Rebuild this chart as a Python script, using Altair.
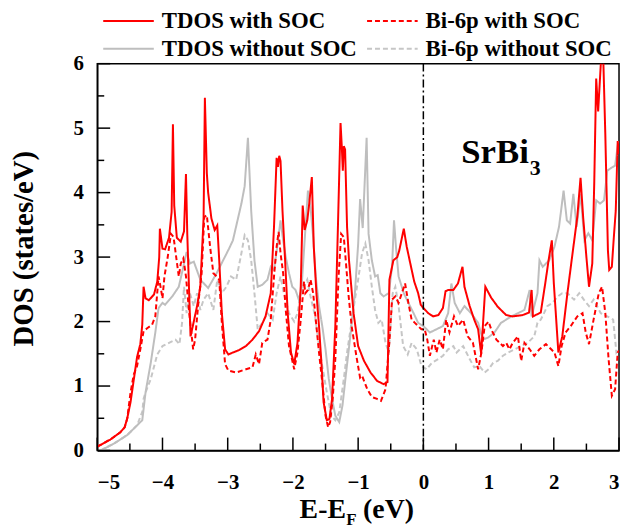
import altair as alt
import pandas as pd

FONT = "Liberation Serif"

series_names = ["TDOS with SOC", "Bi-6p with SOC", "TDOS without SOC", "Bi-6p without SOC"]
series_colors = ["#FF0000", "#FF0000", "#BEBEBE", "#C6C6C6"]
series_dash = [[1, 0], [5, 3], [1, 0], [5, 3]]

tdos_soc_x = [-5.0, -4.8, -4.65, -4.58, -4.54, -4.49, -4.44, -4.39, -4.34, -4.31, -4.29, -4.26, -4.21, -4.13,
              -4.08, -4.05, -4.04, -4.0, -3.96, -3.9, -3.86, -3.84, -3.82, -3.78, -3.72, -3.67, -3.64, -3.62,
              -3.57, -3.52, -3.47, -3.42, -3.37, -3.35, -3.32, -3.30, -3.25, -3.20, -3.16, -3.13, -3.09, -3.04,
              -2.99, -2.92, -2.82, -2.72, -2.62, -2.52, -2.42, -2.34, -2.29, -2.25, -2.23, -2.21, -2.19, -2.16,
              -2.12, -2.08, -2.03, -1.98, -1.93, -1.88, -1.85, -1.82, -1.78, -1.75, -1.71, -1.68, -1.64, -1.60,
              -1.56, -1.53, -1.48, -1.44, -1.40, -1.35, -1.31, -1.27, -1.25, -1.235, -1.22, -1.20, -1.17, -1.14,
              -1.07, -1.0, -0.91, -0.81, -0.71, -0.61, -0.55, -0.52, -0.46, -0.40, -0.37, -0.30, -0.255, -0.20,
              -0.14, -0.08, -0.04, 0.0, 0.075, 0.15, 0.23, 0.30, 0.34, 0.38, 0.46, 0.53, 0.60, 0.63, 0.71, 0.78,
              0.84, 0.886, 0.95, 1.04, 1.14, 1.27, 1.37, 1.52, 1.62, 1.66, 1.68, 1.80, 1.87, 1.92, 1.97, 2.0,
              2.07, 2.13, 2.21, 2.28, 2.36, 2.41, 2.45, 2.50, 2.54, 2.59, 2.62, 2.65, 2.68, 2.72, 2.75, 2.79,
              2.83, 2.85, 2.89, 2.92, 2.95, 2.98, 3.0]
tdos_soc_y = [0.06, 0.17, 0.28, 0.36, 0.5, 0.75, 1.1, 1.45, 1.65, 1.95, 2.54, 2.36, 2.33, 2.42,
              2.62, 3.0, 3.44, 3.13, 3.12, 3.3, 3.7, 5.06, 3.8, 3.3, 3.24, 3.4, 4.29, 3.36,
              1.77, 2.0, 2.24, 2.54, 3.6, 5.47, 4.3, 4.0, 3.6, 3.42, 3.49, 2.95, 2.13, 1.57,
              1.49, 1.52, 1.56, 1.62, 1.72, 1.85, 2.08, 2.44, 3.47, 4.54, 4.4, 4.57, 4.49, 3.72,
              2.95, 2.13, 1.52, 1.34, 1.67, 2.54, 3.8, 3.42, 3.57, 3.83, 4.24, 3.16, 2.44, 1.93,
              1.31, 0.75, 0.47, 0.49, 0.8, 1.93, 3.47, 5.08, 4.7, 4.34, 4.72, 4.67, 3.47, 2.95,
              2.13, 1.62, 1.39, 1.21, 1.08, 1.03, 1.06, 2.65, 2.95, 3.0, 3.1, 3.44, 3.16, 2.9,
              2.62, 2.44, 2.26, 2.21, 2.13, 2.08, 2.1, 2.21, 2.47, 2.49, 2.49, 2.59, 2.85, 2.54, 2.24, 2.03,
              1.88, 1.5, 2.54, 2.37, 2.23, 2.1, 2.08, 2.1, 2.14, 2.49, 2.08, 2.14, 2.6, 2.95, 3.26, 2.6,
              1.52, 1.77, 2.45, 3.0, 3.62, 4.23, 3.62, 3.0, 2.54, 2.9, 4.14, 5.77, 5.26, 5.98, 6.4, 4.9,
              3.1, 2.8, 2.85, 3.3, 3.72, 4.8, 4.6]

bi6p_soc_x = [-5.0, -4.8, -4.65, -4.58, -4.54, -4.49, -4.44, -4.39, -4.34, -4.29, -4.23, -4.16, -4.11, -4.06,
              -4.03, -4.0, -3.97, -3.92, -3.87, -3.83, -3.79, -3.75, -3.72, -3.68, -3.64, -3.59, -3.53, -3.5,
              -3.45, -3.40, -3.36, -3.32, -3.27, -3.22, -3.17, -3.13, -3.09, -3.04, -2.99, -2.87, -2.72, -2.62,
              -2.57, -2.52, -2.47, -2.39, -2.34, -2.29, -2.25, -2.22, -2.19, -2.15, -2.11, -2.06, -1.98, -1.93,
              -1.88, -1.83, -1.81, -1.77, -1.73, -1.69, -1.65, -1.60, -1.55, -1.50, -1.46, -1.43, -1.39, -1.35,
              -1.30, -1.26, -1.22, -1.19, -1.15, -1.10, -1.02, -0.97, -0.94, -0.86, -0.79, -0.71, -0.65, -0.58,
              -0.52, -0.48, -0.43, -0.38, -0.33, -0.28, -0.23, -0.18, -0.13, -0.08, -0.03, 0.02, 0.06, 0.10,
              0.16, 0.20, 0.25, 0.30, 0.35, 0.40, 0.47, 0.53, 0.61, 0.68, 0.76, 0.84, 0.89, 0.94, 1.0, 1.04,
              1.12, 1.22, 1.27, 1.32, 1.37, 1.45, 1.50, 1.55, 1.63, 1.70, 1.78, 1.88, 1.96, 2.01, 2.07, 2.12,
              2.18, 2.26, 2.36, 2.44, 2.49, 2.54, 2.61, 2.69, 2.74, 2.79, 2.84, 2.89, 2.94, 2.98, 3.0]
bi6p_soc_y = [0.06, 0.17, 0.28, 0.36, 0.5, 0.9, 1.18, 1.31, 1.57, 1.85, 1.9, 1.95, 2.08, 2.7,
              2.54, 2.36, 2.7, 3.0, 3.36, 3.31, 3.0, 2.7, 2.9, 2.98, 2.7, 2.13, 1.57, 1.72,
              2.29, 2.75, 3.62, 3.65, 3.16, 2.75, 2.7, 2.65, 1.98, 1.34, 1.24, 1.21, 1.26, 1.29,
              1.49, 1.34, 1.67, 1.72, 2.03, 2.7, 3.16, 3.39, 3.06, 2.75, 2.18, 1.62, 1.26, 1.52,
              2.03, 2.62, 2.44, 2.49, 2.65, 2.44, 2.03, 1.52, 1.06, 0.54, 0.36, 0.44, 0.8, 1.42,
              2.7, 3.36, 3.31, 2.95, 2.44, 1.93, 1.42, 1.13, 1.16, 0.95, 0.83, 0.8, 0.77, 0.95,
              1.7, 2.34, 2.39, 2.29, 2.44, 2.59, 2.29, 2.03, 1.98, 1.93, 1.88, 1.88, 1.72, 1.47,
              1.72, 1.52, 1.72, 1.57, 2.03, 1.83, 2.08, 1.93, 2.03, 1.77, 1.67, 1.26, 1.52, 1.93, 2.0, 1.88,
              1.72, 1.62, 1.67, 1.57, 1.67, 1.77, 1.39, 1.67, 1.57, 1.47, 1.57, 1.65, 1.57, 1.52, 1.31, 1.62,
              1.83, 1.93, 2.08, 2.13, 1.83, 1.65, 2.03, 2.44, 2.54, 2.13, 1.42, 0.85, 0.95, 1.52, 1.55]

tdos_nosoc_x = [-4.95, -4.74, -4.54, -4.39, -4.31, -4.26, -4.18, -4.11, -4.06, -4.0, -3.96, -3.85, -3.75, -3.68,
                -3.63, -3.58, -3.52, -3.42, -3.30, -3.17, -3.07, -2.98, -2.92, -2.79, -2.74, -2.69, -2.64, -2.59,
                -2.54, -2.47, -2.39, -2.34, -2.29, -2.24, -2.19, -2.15, -2.11, -2.06, -2.01, -1.96, -1.91, -1.87,
                -1.82, -1.77, -1.73, -1.69, -1.65, -1.60, -1.55, -1.50, -1.45, -1.40, -1.35, -1.29, -1.24, -1.19,
                -1.12, -1.05, -1.0, -0.97, -0.93, -0.87, -0.84, -0.79, -0.74, -0.70, -0.66, -0.61, -0.53, -0.48,
                -0.45, -0.42, -0.38, -0.30, -0.23, -0.15, -0.08, 0.0, 0.10, 0.20, 0.30, 0.38, 0.43, 0.48, 0.56,
                0.63, 0.73, 0.84, 0.91, 0.99, 1.09, 1.19, 1.27, 1.35, 1.45, 1.55, 1.63, 1.66, 1.75, 1.78, 1.83,
                1.93, 2.01, 2.08, 2.15, 2.20, 2.25, 2.30, 2.35, 2.41, 2.47, 2.53, 2.59, 2.65, 2.71, 2.77, 2.82,
                2.89, 2.94, 2.99, 3.0]
tdos_nosoc_y = [0.0, 0.11, 0.24, 0.39, 0.47, 0.9, 1.36, 1.83, 2.21, 2.29, 2.26, 2.39, 2.54, 2.85,
                3.08, 2.9, 2.93, 2.65, 2.52, 2.75, 2.95, 3.13, 3.26, 3.83, 4.1, 4.85, 3.72, 2.95,
                2.54, 2.57, 2.65, 2.85, 2.8, 3.16, 3.57, 3.26, 3.0, 2.75, 2.54, 2.49, 2.34, 2.49,
                3.26, 4.03, 3.77, 3.31, 2.7, 2.24, 1.93, 1.57, 1.11, 0.8, 0.54, 0.44, 0.7, 1.16,
                1.77, 2.44, 3.2, 3.9, 3.45, 4.85, 3.36, 2.95, 2.7, 2.72, 2.44, 2.39, 2.44, 2.85,
                3.57, 3.16, 2.7, 2.44, 2.29, 2.13, 1.98, 1.93, 1.83, 1.88, 1.93, 2.13, 2.59, 2.29, 2.13,
                2.24, 2.13, 1.98, 1.72, 1.75, 1.83, 1.98, 2.03, 2.08, 2.13, 2.18, 2.49, 2.08, 2.44, 2.95, 2.85,
                2.95, 3.16, 3.47, 4.03, 3.57, 3.52, 3.98, 3.47, 3.98, 3.26, 3.37, 3.26, 3.88, 3.83, 3.88, 4.34,
                4.39, 4.42, 4.8, 4.7]

bi6p_nosoc_x = [-4.95, -4.74, -4.54, -4.39, -4.31, -4.29, -4.26, -4.18, -4.08, -4.0, -3.9, -3.80, -3.74, -3.70,
                -3.67, -3.63, -3.58, -3.52, -3.47, -3.42, -3.37, -3.30, -3.22, -3.16, -3.09, -3.02, -2.95, -2.87,
                -2.79, -2.74, -2.69, -2.64, -2.59, -2.54, -2.47, -2.39, -2.31, -2.25, -2.19, -2.14, -2.06, -1.98,
                -1.93, -1.88, -1.78, -1.73, -1.66, -1.60, -1.55, -1.48, -1.41, -1.35, -1.29, -1.22, -1.17, -1.11,
                -1.05, -1.0, -0.94, -0.89, -0.84, -0.79, -0.74, -0.69, -0.64, -0.58, -0.53, -0.47, -0.43, -0.38,
                -0.31, -0.24, -0.18, -0.10, -0.03, 0.05, 0.13, 0.23, 0.30, 0.38, 0.46, 0.51, 0.61, 0.71, 0.78,
                0.86, 0.94, 1.0, 1.07, 1.14, 1.22, 1.30, 1.40, 1.50, 1.60, 1.70, 1.75, 1.80, 1.85, 1.90, 1.98,
                2.06, 2.13, 2.21, 2.31, 2.39, 2.46, 2.54, 2.61, 2.72, 2.82, 2.91, 2.96, 3.0]
bi6p_nosoc_y = [0.0, 0.11, 0.24, 0.39, 0.6, 0.8, 0.9, 1.11, 1.49, 1.62, 1.67, 1.72, 1.65, 1.98,
                2.54, 2.13, 2.44, 2.24, 2.44, 2.18, 2.34, 2.44, 2.18, 2.65, 2.44, 2.54, 2.7, 2.65,
                3.06, 3.34, 3.26, 2.95, 2.44, 1.88, 1.98, 2.13, 2.03, 2.44, 2.7, 2.44, 2.13, 2.0,
                2.13, 2.44, 2.65, 2.39, 2.08, 1.62, 1.31, 0.9, 0.54, 0.47, 0.59, 1.11, 1.52, 1.93,
                2.34, 2.65, 3.06, 3.21, 2.95, 2.54, 2.18, 1.98, 2.03, 1.67, 1.52, 2.44, 2.54, 2.24,
                1.62, 1.49, 1.67, 1.57, 1.31, 1.26, 1.36, 1.42, 1.47, 1.57, 1.62, 1.52, 1.62, 1.42, 1.29,
                1.31, 1.21, 1.26, 1.36, 1.39, 1.47, 1.52, 1.57, 1.62, 1.67, 1.77, 1.98, 2.03, 2.13, 2.24, 2.29,
                2.39, 2.44, 2.44, 2.34, 2.44, 2.34, 2.24, 2.34, 2.13, 2.08, 2.03, 1.52, 1.57]

x_major = [-5, -4, -3, -2, -1, 0, 1, 2, 3]
x_minor = [-4.5, -3.5, -2.5, -1.5, -0.5, 0.5, 1.5, 2.5]
y_major = [0, 1, 2, 3, 4, 5, 6]
y_minor = [0.5, 1.5, 2.5, 3.5, 4.5, 5.5]

W, H = 526, 390

frames = []
for name, xs, ys in zip(series_names,
                        [tdos_soc_x, bi6p_soc_x, tdos_nosoc_x, bi6p_nosoc_x],
                        [tdos_soc_y, bi6p_soc_y, tdos_nosoc_y, bi6p_nosoc_y]):
    frames.append(pd.DataFrame({"x": xs, "y": ys, "series": name}))
df = pd.concat(frames, ignore_index=True)

xscale = alt.Scale(domain=[-5, 3], nice=False, zero=False)
yscale = alt.Scale(domain=[0, 6], nice=False, zero=False)
axis_common = dict(ticks=False, grid=False, labelFont=FONT, labelFontWeight="bold", labelFontSize=21,
                   labelColor="black", domainColor="black", domainWidth=1.5)
xaxis = alt.Axis(values=x_major, title=None, labelPadding=21, format="d", **axis_common)
yaxis = alt.Axis(values=y_major, title="DOS (states/eV)", labelPadding=14,
                 titleFont=FONT, titleFontWeight="bold", titleColor="black",
                 titleFontSize=29, titleX=-74, titleY=186, titleAlign="center",
                 titleBaseline="middle", titleAngle=270, **axis_common)

X = alt.X("x:Q", scale=xscale, axis=xaxis)
Y = alt.Y("y:Q", scale=yscale, axis=yaxis)

color = alt.Color("series:N", scale=alt.Scale(domain=series_names, range=series_colors), legend=None)
dash = alt.StrokeDash("series:N", scale=alt.Scale(domain=series_names, range=series_dash), legend=None)

def line_layer(name):
    return alt.Chart(df).transform_filter(alt.datum.series == name).mark_line(
        strokeWidth=2, clip=True).encode(x=X, y=Y, color=color, strokeDash=dash,
                                         order=alt.Order("x:Q"))

lines = [line_layer(series_names[3]), line_layer(series_names[2]),
         line_layer(series_names[1]), line_layer(series_names[0])]

zero_line = alt.Chart(pd.DataFrame({"x": [0]})).mark_rule(
    color="black", strokeWidth=1.5, strokeDash=[8, 3, 2, 3]).encode(x=X)

xt_major = alt.Chart(pd.DataFrame({"x": x_major})).mark_rule(color="black", strokeWidth=1.5).encode(
    x=X, y=alt.value(H), y2=alt.value(H - 13))
xt_minor = alt.Chart(pd.DataFrame({"x": x_minor})).mark_rule(color="black", strokeWidth=1.5).encode(
    x=X, y=alt.value(H), y2=alt.value(H - 7))
yt_major = alt.Chart(pd.DataFrame({"y": y_major})).mark_rule(color="black", strokeWidth=1.5).encode(
    y=Y, x=alt.value(0), x2=alt.value(13))
yt_minor = alt.Chart(pd.DataFrame({"y": y_minor})).mark_rule(color="black", strokeWidth=1.5).encode(
    y=Y, x=alt.value(0), x2=alt.value(7))

def label(text, px, py, size, baseline="alphabetic"):
    return alt.Chart(pd.DataFrame({"t": [text]})).mark_text(
        font=FONT, fontWeight="bold", fontSize=size, color="black", align="left",
        baseline=baseline).encode(x=alt.value(px), y=alt.value(py), text="t:N")

# legend (two columns, two rows) above the plot
leg_cols = [6, 272]       # symbol start, relative to plot left
leg_rows = [-43, -15]     # row centre, relative to plot top
sym_len = 51
legend_layers = []
for i, name in enumerate(series_names):
    cx = leg_cols[i % 2]
    cy = leg_rows[i // 2]
    legend_layers.append(
        alt.Chart(pd.DataFrame({"t": [name]})).mark_rule(
            color=series_colors[i], strokeDash=series_dash[i], strokeWidth=2).encode(
            x=alt.value(cx), x2=alt.value(cx + sym_len), y=alt.value(cy)))
    legend_layers.append(label(name, cx + sym_len + 8, cy, 23, baseline="middle"))

texts = [
    label("SrBi", 367, 100, 35),
    label("3", 436, 112, 22),
    label("E-E", 204, 458, 28),
    label("F", 251, 465, 17),
    label("(eV)", 268, 458, 28),
]

chart = alt.layer(*lines, zero_line, xt_major, xt_minor, yt_major, yt_minor,
                  *legend_layers, *texts).properties(
    width=W, height=H,
    padding={"left": 90, "top": 54, "right": 2, "bottom": 76},
    autosize=alt.AutoSizeParams(type="none"),
).configure(background="white").configure_view(stroke="black", strokeWidth=1.5).configure_axis(
    domainColor="black", domainWidth=1.5, labelColor="black", labelFont=FONT, labelFontWeight="bold",
    titleFont=FONT, titleFontWeight="bold", titleColor="black"
)

chart.save("out.html", embed_options={"renderer": "svg", "actions": False})
